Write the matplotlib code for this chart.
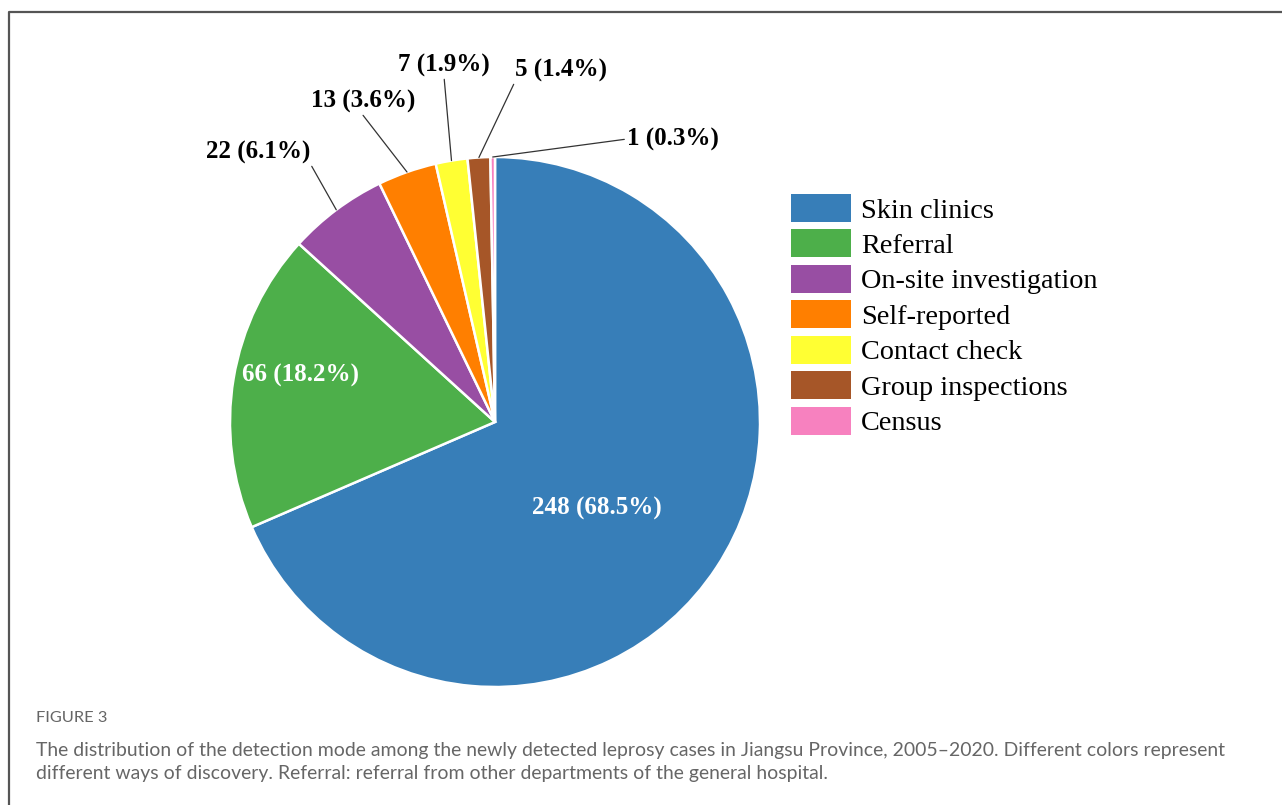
import matplotlib.pyplot as plt
from matplotlib.patches import Patch
from matplotlib.lines import Line2D
import numpy as np

# detection modes, newly detected leprosy cases, Jiangsu 2005-2020
modes = ["Skin clinics", "Referral", "On-site investigation", "Self-reported",
         "Contact check", "Group inspections", "Census"]
cases = [248, 66, 22, 13, 7, 5, 1]
colors = ["#377EB8", "#4DAF4A", "#984EA3", "#FF7F00", "#FFFF33", "#A65628", "#F781BF"]

W, H = 1282, 805
fig = plt.figure(figsize=(W / 100, H / 100), dpi=100)

# frame line along top and left
fig.add_artist(Line2D([9 / W, 9 / W, 1], [0, 1 - 12 / H, 1 - 12 / H],
                      color="#555555", lw=1.6, transform=fig.transFigure))

cx, cy, r = 495, 422, 265
ax = fig.add_axes([(cx - r) / W, (H - cy - r) / H, 2 * r / W, 2 * r / H])
wedges, _ = ax.pie(cases, colors=colors, startangle=90, counterclock=False,
                   radius=1, wedgeprops=dict(edgecolor="white", linewidth=1.8))
ax.set_xlim(-1, 1)
ax.set_ylim(-1, 1)
ax.set_aspect("equal")
ax.axis("off")

total = sum(cases)
labels = [f"{c} ({c / total * 100:.1f}%)" for c in cases]

def to_data(px, py):
    return (px - cx) / r, (cy - py) / r

serif = "Liberation Serif"

# big slices labelled inside
for i, (px, py) in zip([0, 1], [(597, 508), (300, 375)]):
    ax.text(*to_data(px, py), labels[i], color="white", fontsize=18,
            fontweight="bold", family=serif, ha="center", va="center")

# small slices labelled outside with leader lines
outside = {2: ((258, 152), (1.0, 0.0)),
           3: ((363, 101), (0.48, 0.0)),
           4: ((444, 65), (0.5, 0.0)),
           5: ((561, 70), (0.0, 0.0)),
           6: ((673, 139), (0.0, 0.5))}
for i, (pos, rel) in outside.items():
    w = wedges[i]
    ang = np.deg2rad((w.theta1 + w.theta2) / 2)
    ax.annotate(labels[i], xy=(np.cos(ang), np.sin(ang)), xytext=to_data(*pos),
                fontsize=18, fontweight="bold", family=serif,
                ha="center", va="center", annotation_clip=False,
                arrowprops=dict(arrowstyle="-", color="#333333", lw=0.9,
                                shrinkA=0, shrinkB=0, relpos=rel))

handles = [Patch(facecolor=c, edgecolor="none") for c in colors]
fig.legend(handles, modes, loc="upper left",
           bbox_to_anchor=(791 / W, 1 - 194 / H), frameon=False,
           borderpad=0, borderaxespad=0, prop=dict(family=serif, size=20.3),
           handlelength=2.13, handleheight=1.15, handletextpad=0.36,
           labelspacing=0.21)

sans = "Lato"
fig.text(36 / W, 1 - 718 / H, "FIGURE 3", family=sans, fontsize=11.8,
         color="#666666", va="center")
fig.text(36 / W, 1 - 762 / H,
         "The distribution of the detection mode among the newly detected leprosy cases in "
         "Jiangsu Province, 2005\u20132020. Different colors represent\n"
         "different ways of discovery. Referral: referral from other departments of the "
         "general hospital.",
         family=sans, fontsize=13.98, color="#666666", va="center", linespacing=1.4)

fig.savefig("out.png", dpi=100)
